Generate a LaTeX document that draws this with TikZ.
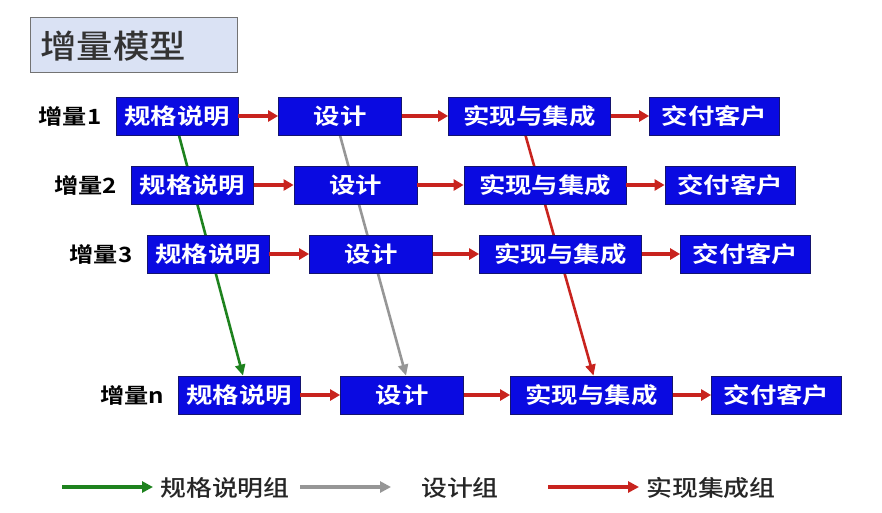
\documentclass[tikz,border=0pt]{standalone}
\usepackage{fontspec}
\newfontfamily\boxfont[FakeStretch=1.2]{Noto Sans CJK SC Bold}
\newfontfamily\labfont[FakeStretch=1.15]{Noto Sans CJK SC Bold}
\newfontfamily\legfont[FakeStretch=1.15]{Noto Sans CJK SC Medium}
\newfontfamily\titfont[FakeStretch=1.12]{Noto Sans CJK SC Medium}
\usetikzlibrary{arrows.meta,backgrounds}
\definecolor{boxblue}{RGB}{10,10,225}
\definecolor{boxedge}{RGB}{20,20,110}
\definecolor{arrred}{RGB}{200,35,30}
\definecolor{arrgreen}{RGB}{30,130,30}
\definecolor{arrgray}{RGB}{150,150,150}
\definecolor{titfill}{RGB}{218,226,244}
\tikzset{
  stepbox/.style={draw=boxedge,line width=0.8pt,fill=boxblue,text=white,minimum height=38pt,inner sep=0pt,font=\boxfont\fontsize{22}{22}\selectfont},
  wspec/.style={stepbox,minimum width=122pt},
  wdes/.style={stepbox,minimum width=123pt},
  wimp/.style={stepbox,minimum width=162pt},
  wdel/.style={stepbox,minimum width=130pt},
  rowlab/.style={font=\labfont\fontsize{21}{21}\selectfont,text=black},
  harrow/.style={draw=arrred,line width=3.2pt,-{Triangle[length=10pt,width=11pt]}},
  diag/.style={line width=2.6pt,-{Triangle[length=11pt,width=10pt]}},
  legarrow/.style={line width=3.2pt,-{Triangle[length=11pt,width=11pt]}},
  legtext/.style={font=\legfont\fontsize{22.5}{22.5}\selectfont,text=black!85}
}
\begin{document}
\begin{tikzpicture}[x=1pt,y=-1pt]
\useasboundingbox (0,0) rectangle (882,513);
% title
\node[draw=black!55,line width=1pt,fill=titfill,minimum width=207pt,minimum height=55pt,inner sep=0pt] (title) at (133.5,45.5) {};
\node[font=\titfont\fontsize{32.5}{32.5}\selectfont,text=black!80,anchor=west] (titletext) at (37,46) {增量模型};
% rows
\foreach \r/\dx/\dy/\lab in {1/0/0/增量1,2/15.5/69/增量2,3/31/138/增量3,n/62/279/增量n}{
  \node[rowlab] (l\r) at (70+\dx,116+\dy) {\lab};
  \node[wspec] (s\r) at (177+\dx,116+\dy) {规格说明};
  \node[wdes] (d\r) at (340+\dx,116+\dy) {设计};
  \node[wimp] (i\r) at (529.5+\dx,116+\dy) {实现与集成};
  \node[wdel] (c\r) at (714.5+\dx,116+\dy) {交付客户};
  \draw[harrow] (s\r) -- (d\r);
  \draw[harrow] (d\r) -- (i\r);
  \draw[harrow] (i\r) -- (c\r);
}
\begin{scope}[on background layer]
  \draw[diag,draw=arrgreen] ([xshift=2pt]s1.south) -- ([xshift=4pt]sn.north);
  \draw[diag,draw=arrgray] ([xshift=0pt]d1.south) -- ([xshift=4pt]dn.north);
  \draw[diag,draw=arrred] ([xshift=-4pt]i1.south) -- ([xshift=2pt]in.north);
\end{scope}
% legend
\coordinate (g0) at (62,487);
\coordinate (g1) at (153,487);
\coordinate (y0) at (300,487);
\coordinate (y1) at (391,487);
\coordinate (r0) at (548,487);
\coordinate (r1) at (639,487);
\draw[legarrow,draw=arrgreen] (g0) -- (g1);
\draw[legarrow,draw=arrgray] (y0) -- (y1);
\draw[legarrow,draw=arrred] (r0) -- (r1);
\node[legtext] (lg) at (225,488) {规格说明组};
\node[legtext] (ly) at (460,488) {设计组};
\node[legtext] (lr) at (711,488) {实现集成组};
\end{tikzpicture}
\end{document}
